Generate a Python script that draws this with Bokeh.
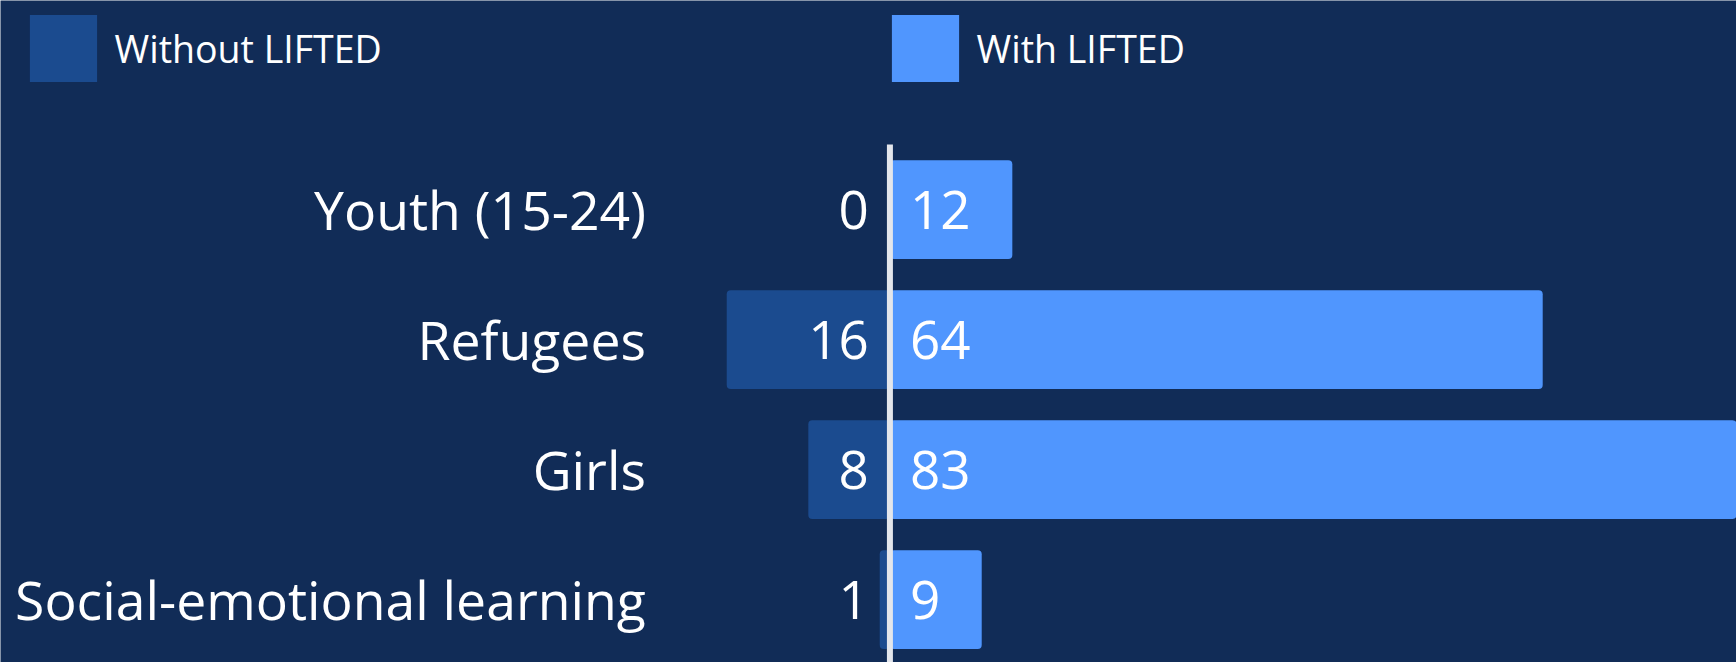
from bokeh.plotting import figure
from bokeh.models import ColumnDataSource, Range1d, Legend, LegendItem
from bokeh.core.properties import value
from bokeh.embed import file_html
from bokeh.resources import INLINE

# ---- data ----
categories = ["Youth (15-24)", "Refugees", "Girls", "Social-emotional learning"]
without_lifted = [0, 16, 8, 1]
with_lifted = [12, 64, 83, 9]
series_names = ["Without LIFTED", "With LIFTED"]

# ---- style ----
BG = "#112c57"
DARK = "#1b4b8f"
LIGHT = "#5096fe"
LINE = "#e3e6ec"
FONT = "Open Sans"

idx = list(range(len(categories)))
src = ColumnDataSource(dict(
    y=idx,
    cat=categories,
    wo=[-v for v in without_lifted],
    w=with_lifted,
    zero=[0] * len(idx),
    wo_lbl=[str(v) for v in without_lifted],
    w_lbl=[str(v) for v in with_lifted],
))

p = figure(width=1736, height=662, output_backend="svg", toolbar_location=None,
           x_range=Range1d(-87.2, 83.0), y_range=Range1d(3.484, -1.608),
           x_axis_location=None, y_axis_location=None,
           min_border=0, background_fill_color=BG, border_fill_color=BG,
           outline_line_color=None)
p.grid.visible = False

r_wo = p.hbar(y="y", left="wo", right="zero", height=0.76, source=src,
              fill_color=DARK, line_color=None, border_radius=4)
r_w = p.hbar(y="y", left="zero", right="w", height=0.76, source=src,
             fill_color=LIGHT, line_color=None, border_radius=4)

# centre line
p.segment(x0=[0], x1=[0], y0=[-0.5], y1=[p.y_range.start], line_color=LINE, line_width=6)

# value labels
p.text(x="zero", y="y", text="wo_lbl", source=src, x_offset=-21, text_align="right",
       text_baseline="middle", text_color="white", text_font=value(FONT), text_font_size="53px")
p.text(x="zero", y="y", text="w_lbl", source=src, x_offset=20, text_align="left",
       text_baseline="middle", text_color="white", text_font=value(FONT), text_font_size="53px")

# category labels
p.text(x="zero", y="y", text="cat", source=src, x_offset=-244, text_align="right",
       text_baseline="middle", text_color="white", text_font=value(FONT), text_font_size="53.5px")

legend = Legend(items=[LegendItem(label=series_names[0], renderers=[r_wo]),
                       LegendItem(label=series_names[1], renderers=[r_w])],
                orientation="horizontal", location=(20.6, 571.6),
                glyph_width=84, glyph_height=84, label_standoff=10, label_width=768,
                spacing=0, padding=0, margin=0,
                label_text_font=FONT, label_text_font_size="37.5px", label_text_color="white",
                background_fill_alpha=0, border_line_color=None)
p.add_layout(legend)

open("out.html", "w").write(file_html(p, INLINE))
